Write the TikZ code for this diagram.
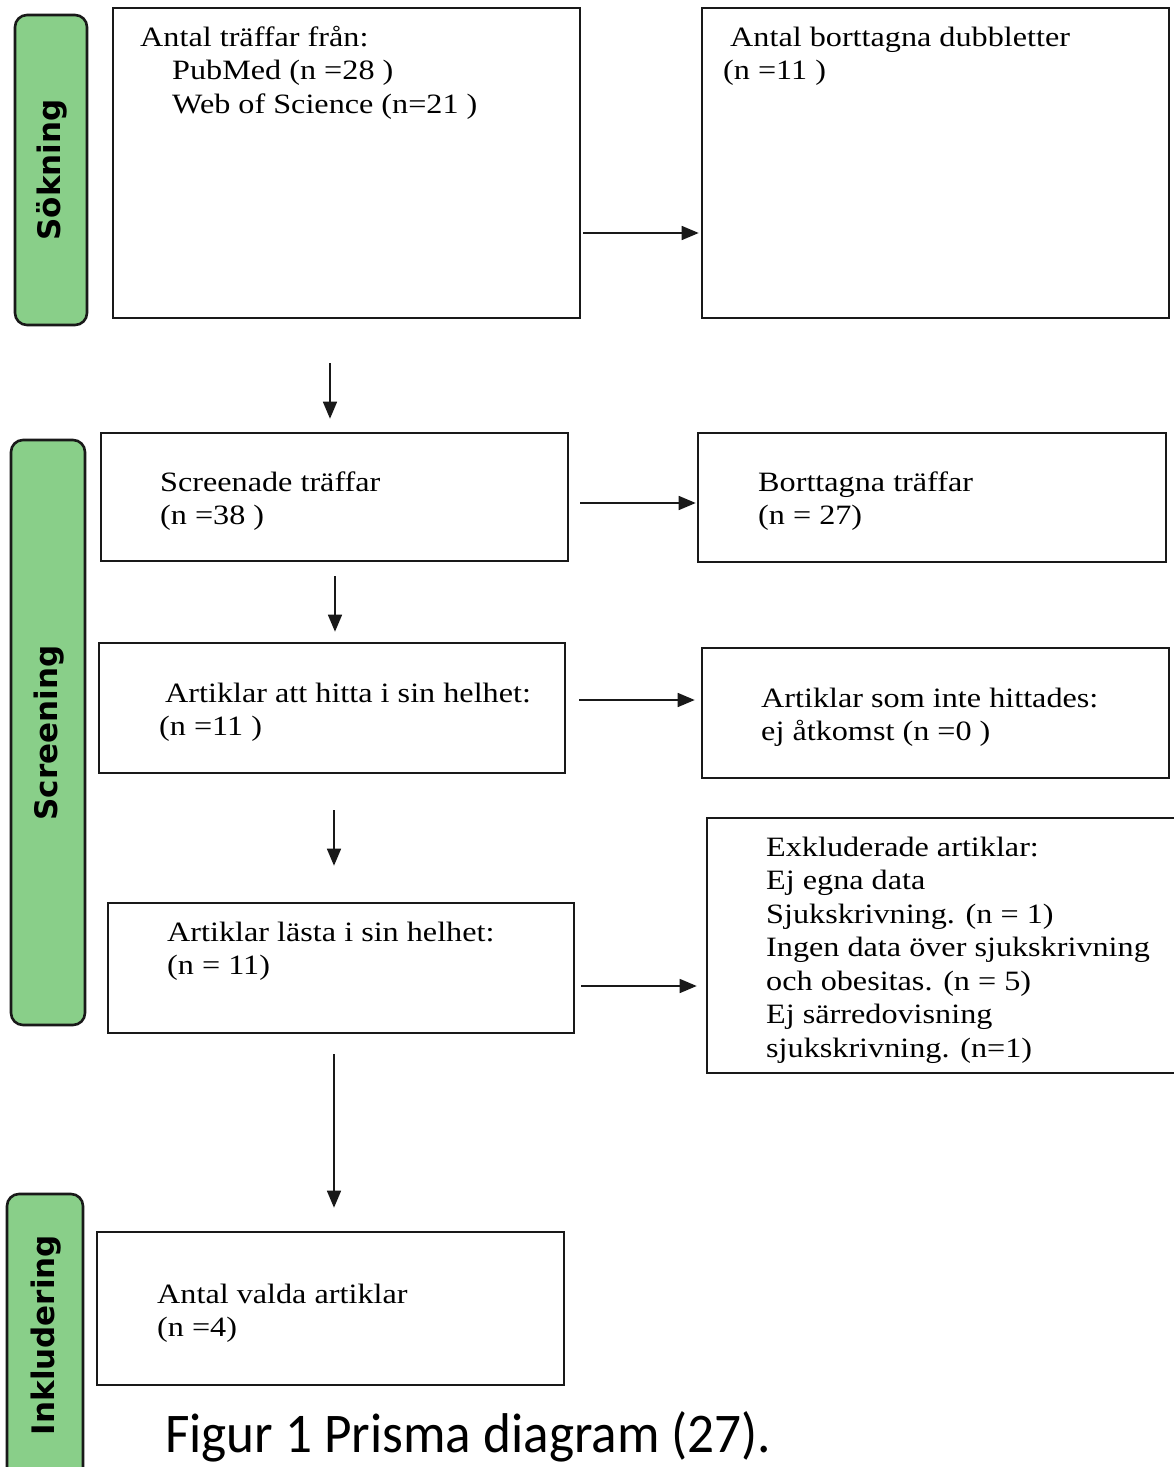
\documentclass[tikz,border=0pt]{standalone}
\usepackage{fontspec}
\setmainfont[FakeStretch=1.15]{Liberation Serif}
\newfontfamily\labfont{DejaVu Sans}
\newfontfamily\capfont{Carlito}
\usetikzlibrary{arrows.meta,calc}
\definecolor{lgreen}{RGB}{137,207,137}
\definecolor{edge}{RGB}{25,25,25}
\begin{document}
\begin{tikzpicture}[x=1pt,y=-1pt,
  box/.style={draw=edge, line width=2.6pt, rectangle, inner sep=0pt},
  phase/.style={draw=edge, fill=lgreen, line width=2.6pt, rounded corners=12pt, inner sep=0pt},
  phasetext/.style={rotate=90, font=\labfont\bfseries\fontsize{31}{36}\selectfont, inner sep=0pt},
  txt/.style={anchor=north west, inner sep=0pt, align=left, font=\fontsize{28}{33.5}\selectfont},
  arr/.style={line width=1.5pt, draw=edge, -{Triangle[length=17pt,width=14pt]}}]
\fill[white] (0,0) rectangle (1173,1467);
\useasboundingbox (0,0) rectangle (1173,1467);

% phase labels
\node[phase, minimum width=72pt, minimum height=310pt] (p1) at (51,170) {};
\node[phasetext] (p1t) at (52,170) {Sökning};
\node[phase, minimum width=74pt, minimum height=585pt] (p2) at (48,732.5) {};
\node[phasetext] (p2t) at (49,733) {Screening};
\node[phase, minimum width=76pt, minimum height=296pt] (p3) at (45,1342) {};
\node[phasetext] (p3t) at (46,1335) {Inkludering};

% boxes
\node[box, minimum width=467pt, minimum height=310pt] (A) at (346.5,163) {};
\node[box, minimum width=467pt, minimum height=310pt] (B) at (935.5,163) {};
\node[box, minimum width=467pt, minimum height=128pt] (C) at (334.5,497) {};
\node[box, minimum width=468pt, minimum height=129pt] (D) at (932,497.5) {};
\node[box, minimum width=466pt, minimum height=130pt] (E) at (332,708) {};
\node[box, minimum width=467pt, minimum height=130pt] (F) at (935.5,713) {};
\node[box, minimum width=466pt, minimum height=130pt] (G) at (341,968) {};
\node[box, minimum width=468pt, minimum height=255pt] (H) at (941,945.5) {};
\node[box, minimum width=467pt, minimum height=153pt] (I) at (330.5,1308.5) {};

% texts (node placed at first baseline - 24)
\node[txt] (At) at (140,22) {\rule{0pt}{24pt}Antal träffar från:\\ \hspace*{32pt}PubMed (n =28 )\\ \hspace*{32pt}Web of Science (n=21 )};
\node[txt] (Bt) at (723,22) {\rule{0pt}{24pt}\hspace*{7pt}Antal borttagna dubbletter\\ (n =11 )};
\node[txt] (Ct) at (160,467) {\rule{0pt}{24pt}Screenade träffar\\ (n =38 )};
\node[txt] (Dt) at (758,467) {\rule{0pt}{24pt}Borttagna träffar\\ (n = 27)};
\node[txt] (Et) at (159,678) {\rule{0pt}{24pt}\hspace*{6pt}Artiklar att hitta i sin helhet:\\ (n =11 )};
\node[txt] (Ft) at (761,683) {\rule{0pt}{24pt}Artiklar som inte hittades:\\ ej åtkomst (n =0 )};
\node[txt] (Gt) at (167,917) {\rule{0pt}{24pt}Artiklar lästa i sin helhet:\\ (n = 11)};
\node[txt] (Ht) at (766,832) {\rule{0pt}{24pt}Exkluderade artiklar:\\ Ej egna data\\ Sjukskrivning. (n = 1)\\ Ingen data över sjukskrivning\\ och obesitas. (n = 5)\\ Ej särredovisning\\ sjukskrivning. (n=1)};
\node[txt] (It) at (157,1279) {\rule{0pt}{24pt}Antal valda artiklar\\ (n =4)};

% caption
\node[font=\capfont\fontsize{56}{60}\selectfont, xscale=0.95, anchor=base west, inner sep=0pt] (cap) at (165,1452) {Figur 1 Prisma diagram (27).};

% connectors
\draw[arr] ($(A.east)+(2,70)$) -- ($(B.west)+(-2,70)$);
\draw[arr] ($(A.south)+(-16.5,44)$) -- ($(C.north)+(-4.5,-13)$);
\draw[arr] ($(C.east)+(11,6)$) -- ($(D.west)+(-1,5.5)$);
\draw[arr] ($(C.south)+(0.5,14)$) -- ($(E.north)+(3,-10)$);
\draw[arr] ($(E.east)+(13,-8)$) -- ($(F.west)+(-6,-13)$);
\draw[arr] ($(E.south)+(2,36)$) -- ($(G.north)+(-7,-36)$);
\draw[arr] ($(G.east)+(6,18)$) -- ($(H.west)+(-9,40.5)$);
\draw[arr] ($(G.south)+(-7,20)$) -- ($(I.north)+(3.5,-23)$);
\end{tikzpicture}
\end{document}
